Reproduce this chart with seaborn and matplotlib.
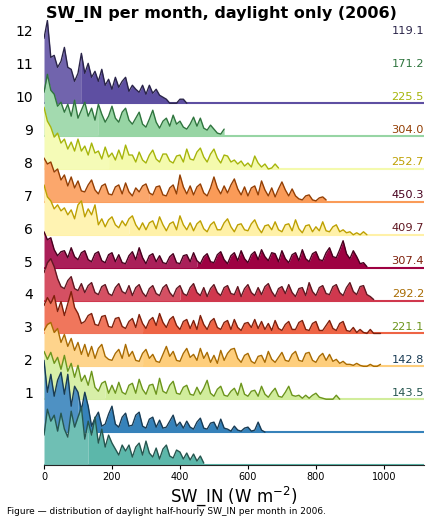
import colorsys
import numpy as np
import matplotlib
matplotlib.use("Agg")
import matplotlib.pyplot as plt
import seaborn as sns

# monthly mean SW_IN (W m-2), daylight only
months = ["1", "2", "3", "4", "5", "6", "7", "8", "9", "10", "11", "12"]
mean_sw = [143.5, 142.8, 221.1, 292.2, 307.4, 409.7, 450.3, 252.7, 304.0, 225.5, 171.2, 119.1]

# histogram heights per 10 W m-2 bin (relative density)
bin_w = 10
jan = [30, 56, 44, 50, 34, 52, 36, 28, 54, 38, 48, 58, 26, 44, 30, 48, 22, 36, 18, 30, 22, 16, 10, 20,
       14, 20, 8, 18, 22, 10, 24, 12, 8, 17, 6, 16, 20, 9, 7, 15, 13, 6, 12, 5, 11, 4, 9, 2]
feb = [72, 40, 58, 36, 52, 60, 38, 58, 26, 46, 40, 22, 40, 26, 6, 14, 20, 6, 8, 18, 26, 8, 5, 15,
       19, 6, 7, 17, 20, 6, 4, 13, 15, 5, 12, 4, 5, 11, 17, 6, 10, 4, 11, 5, 3, 10, 14, 4,
       3, 9, 10, 3, 13, 4, 3, 1, 6, 2, 1, 4, 5, 1, 2, 10, 2, 0]
mar = [48, 40, 47, 36, 42, 30, 44, 28, 36, 22, 34, 18, 24, 14, 28, 12, 8, 16, 18, 6, 14, 6, 17, 7,
       5, 14, 16, 6, 20, 10, 5, 14, 15, 5, 21, 8, 6, 14, 18, 6, 5, 12, 14, 5, 4, 12, 5, 11,
       19, 6, 3, 10, 13, 4, 3, 8, 11, 4, 16, 5, 3, 8, 9, 3, 13, 5, 2, 7, 11, 3, 2, 7,
       13, 4, 3, 4, 1, 4, 1, 4, 6, 2, 1, 0, 0, 0, 4, 0]
apr = [36, 42, 44, 34, 38, 24, 32, 20, 28, 16, 24, 12, 22, 10, 20, 8, 18, 22, 10, 7, 6, 13, 17, 8,
       22, 10, 15, 6, 5, 13, 17, 8, 12, 5, 4, 12, 20, 10, 15, 6, 5, 13, 18, 9, 12, 6, 18, 8,
       14, 4, 11, 3, 16, 6, 13, 17, 18, 8, 4, 11, 13, 5, 3, 10, 11, 4, 15, 7, 4, 9, 14, 6,
       5, 12, 15, 6, 5, 13, 14, 6, 4, 10, 13, 6, 12, 5, 7, 3, 5, 2, 2, 1, 3, 1, 0, 0,
       2, 0, 0, 2]
may = [28, 36, 30, 38, 22, 32, 18, 30, 42, 26, 20, 10, 12, 18, 20, 9, 8, 17, 18, 7, 6, 15, 16, 7,
       5, 12, 15, 6, 19, 10, 5, 13, 16, 8, 20, 11, 6, 14, 17, 8, 4, 12, 14, 5, 13, 4, 18, 9,
       4, 12, 15, 6, 4, 11, 13, 4, 14, 6, 3, 10, 11, 6, 14, 5, 12, 4, 10, 3, 13, 5, 3, 9,
       12, 4, 4, 11, 13, 4, 3, 10, 12, 3, 3, 8, 13, 5, 3, 10, 12, 3, 2, 6, 1, 4, 1, 0,
       4, 0, 0, 0]
jun = [28, 38, 42, 34, 22, 14, 12, 20, 24, 12, 10, 17, 8, 15, 18, 8, 6, 14, 16, 7, 5, 13, 17, 9,
       7, 15, 5, 13, 16, 8, 4, 12, 15, 7, 5, 13, 16, 8, 4, 12, 15, 7, 5, 13, 17, 8, 5, 13,
       4, 12, 16, 8, 5, 13, 15, 7, 6, 14, 4, 12, 16, 8, 5, 13, 6, 14, 17, 9, 4, 12, 14, 7,
       16, 8, 4, 12, 13, 5, 18, 9, 5, 13, 15, 7, 6, 14, 16, 8, 5, 13, 18, 9, 6, 14, 15, 6,
       4, 1]
jul = [36, 28, 30, 18, 12, 16, 17, 10, 20, 11, 8, 15, 17, 8, 6, 14, 16, 7, 5, 13, 15, 6, 13, 5,
       4, 12, 16, 8, 20, 10, 4, 12, 14, 6, 12, 5, 4, 11, 14, 5, 4, 12, 13, 6, 15, 7, 4, 11,
       14, 6, 5, 13, 16, 8, 4, 12, 15, 7, 17, 9, 5, 13, 16, 8, 18, 11, 7, 15, 14, 6, 17, 9,
       5, 13, 15, 7, 18, 9, 6, 14, 16, 8, 7, 15, 20, 11, 10, 18, 27, 14, 9, 17, 11, 4, 5, 1]
aug = [50, 38, 34, 26, 30, 24, 27, 20, 25, 16, 30, 34, 18, 26, 20, 30, 10, 16, 8, 15, 18, 10, 7, 14,
       9, 16, 19, 10, 5, 12, 5, 12, 14, 6, 18, 10, 4, 11, 13, 5, 19, 10, 5, 12, 4, 11, 14, 6,
       3, 10, 13, 5, 5, 12, 16, 8, 3, 10, 11, 5, 4, 11, 15, 7, 2, 9, 10, 5, 13, 5, 3, 10,
       11, 4, 15, 6, 2, 9, 10, 3, 8, 4, 13, 4, 3, 8, 10, 3, 5, 2, 3, 0, 2, 0, 3, 0]
sep = [44, 38, 40, 30, 33, 22, 27, 16, 25, 14, 21, 11, 10, 17, 22, 12, 8, 16, 18, 8, 7, 15, 17, 8,
       19, 10, 6, 14, 10, 16, 18, 9, 7, 15, 16, 7, 6, 14, 17, 8, 27, 15, 8, 16, 7, 15, 18, 9,
       6, 14, 25, 14, 8, 16, 9, 17, 23, 13, 7, 15, 6, 14, 16, 7, 21, 12, 6, 14, 5, 13, 20, 12,
       6, 13, 6, 3, 2, 6, 7, 2, 1, 4, 5, 2]
oct_ = [62, 48, 42, 32, 36, 26, 30, 20, 27, 18, 30, 18, 23, 14, 26, 16, 18, 10, 22, 12, 16, 9, 19, 10,
        24, 14, 14, 7, 17, 9, 6, 14, 19, 10, 7, 15, 15, 8, 6, 13, 14, 7, 20, 10, 9, 17, 21, 12,
        7, 15, 20, 11, 6, 14, 13, 7, 9, 5, 8, 3, 6, 2, 13, 6, 2, 5, 0, 1, 5, 1]
nov = [44, 62, 46, 42, 30, 34, 24, 32, 20, 36, 18, 26, 34, 20, 28, 16, 32, 22, 14, 20, 30, 18, 14, 24,
       28, 16, 12, 18, 24, 12, 9, 17, 26, 14, 8, 15, 18, 10, 21, 12, 15, 9, 7, 12, 19, 10, 18, 8,
       6, 11, 7, 3, 2, 7]
dec = [65, 83, 46, 48, 36, 42, 56, 36, 34, 22, 30, 50, 30, 40, 26, 32, 22, 34, 18, 24, 14, 26, 16, 22,
       26, 12, 18, 14, 11, 18, 9, 18, 10, 14, 8, 6, 4, 0, 0, 0, 4, 4, 0]
hists = [jan, feb, mar, apr, may, jun, jul, aug, sep, oct_, nov, dec]

x_max = 1118
ridge_scale = 1 / 33.0
label_shift = 2.2

sns.set_style("ticks")
plt.rcParams["text.color"] = "black"
plt.rcParams["axes.labelcolor"] = "black"
plt.rcParams["xtick.color"] = "black"
plt.rcParams["ytick.color"] = "black"

# colours: Spectral_r ranked by monthly mean, endpoints included
cmap = plt.get_cmap("Spectral_r")
pal = [cmap(v)[:3] for v in np.linspace(0, 1, 12)]
order = np.argsort(mean_sw)
fills = [None] * 12
for rank, m in enumerate(order):
    fills[m] = pal[rank]


def darker(c, f=0.45):
    h, l, s = colorsys.rgb_to_hls(*c)
    return colorsys.hls_to_rgb(h, l * f, s)


def lighter(c, f=0.12):
    return tuple(np.array(c) * (1 - f) + f)


fig = plt.figure(figsize=(4.31, 5.23), dpi=100)
ax = fig.add_axes([44 / 431, 58 / 523, 380 / 431, 445 / 523])

for i, h in enumerate(hists):
    h = np.array(h, dtype=float)
    x = np.arange(len(h)) * bin_w
    y = i + h * ridge_scale
    z = 30 - 2 * i
    fc = fills[i]
    lc = darker(fc)
    cum = np.cumsum(h)
    med = x[np.searchsorted(cum, cum[-1] / 2)]
    ax.axhline(i, color=fc, lw=1.5, zorder=z)
    ax.fill_between(x, i, y, where=x <= med, color=lighter(fc), lw=0, zorder=z)
    ax.fill_between(x, i, y, where=x >= med, color=fc, lw=0, zorder=z)
    ax.plot(x, y, color=lc, lw=1.0, zorder=z + 0.5)
    ax.text(x_max, i + label_shift, f"{mean_sw[i]:.1f}", ha="right", va="center",
            color=lc, fontsize=8.2, zorder=40)

ax.set_xlim(0, x_max)
ax.set_ylim(0, 13.53)
ax.set_yticks(np.arange(12) + label_shift)
ax.set_yticklabels(months, fontsize=10)
ax.tick_params(axis="y", length=0, pad=8)
ax.tick_params(axis="x", labelsize=7, length=3, pad=2)
ax.set_xticks([0, 200, 400, 600, 800, 1000])
sns.despine(ax=ax, left=True)
ax.spines["bottom"].set_zorder(50)
ax.set_xlabel("SW_IN (W m$^{-2}$)", fontsize=12, labelpad=2)

fig.text(221.5 / 431, 1 - 14 / 523, "SW_IN per month, daylight only (2006)",
         ha="center", va="center", fontsize=11.5, fontweight="bold")
fig.text(7 / 431, 1 - 512 / 523,
         "Figure \u2014 distribution of daylight half-hourly SW_IN per month in 2006.",
         ha="left", va="center", fontsize=6.5)

fig.savefig("out.png", dpi=100)
